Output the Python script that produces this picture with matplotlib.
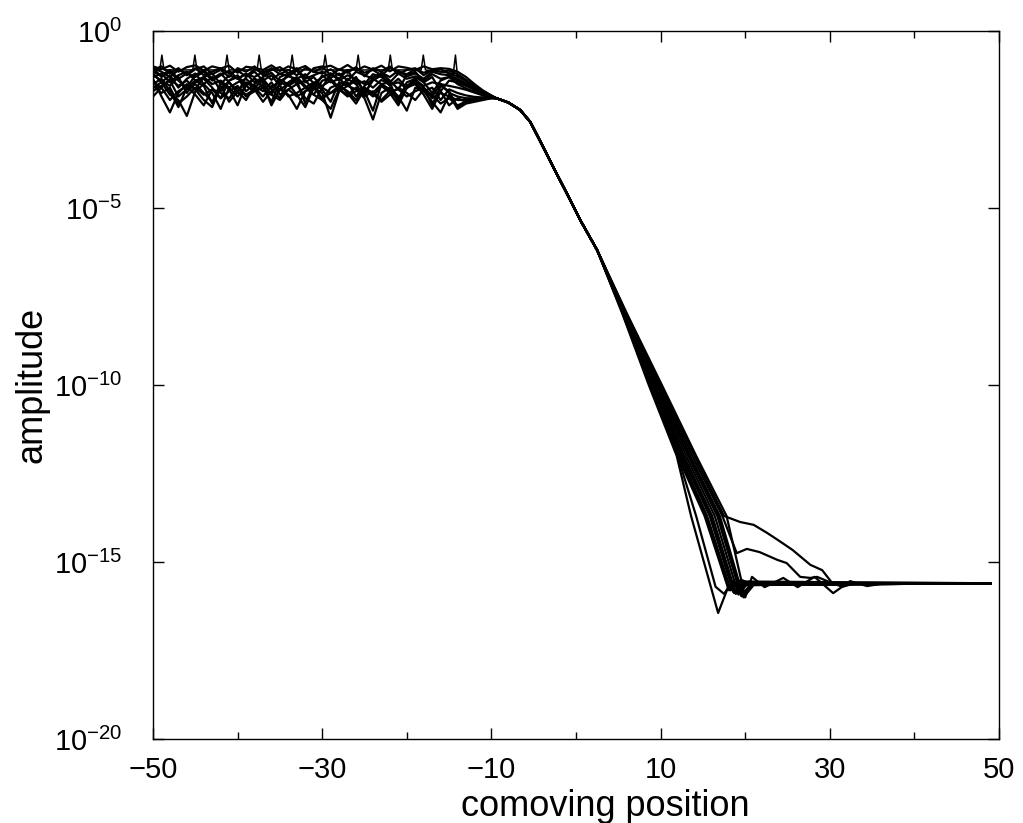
import numpy as np
import matplotlib.pyplot as plt
from matplotlib.ticker import NullLocator, FixedLocator

plt.rcParams['font.family'] = ['Liberation Sans', 'DejaVu Sans']
plt.rcParams['mathtext.fontset'] = 'custom'
plt.rcParams['mathtext.rm'] = 'Liberation Sans'
plt.rcParams['mathtext.it'] = 'Liberation Sans:italic'

# shared grid of the noisy region (comoving position -50 .. -10)
x_left = np.arange(-50, -9)

# common head of the front after the runs collapse (log10 amplitude)
x_head = [-9.4, -8.0, -6.6, -5.4, -4.3, -2.7, -1.1, 0.5, 2.5]
log_head = [-1.90, -2.02, -2.23, -2.57, -3.08, -3.84, -4.58, -5.34, -6.19]

# levels (log10 amplitude) at which each run's front position is read
front_levels = [-8.0, -10.0, -12.0, -13.7]

# run 1
left_1 = [-1.00, -1.08, -0.98, -1.15, -1.02, -0.97, -1.12, -1.00, -1.06, -0.98, -1.18, -1.01, -1.04, -1.10,
          -0.97, -1.13, -1.00, -1.08, -0.99, -1.16, -1.03, -0.98, -1.10, -0.96, -1.12, -1.00, -1.09, -0.98,
          -1.14, -1.00, -1.04, -1.10, -1.00, -1.08, -1.05, -1.07, -1.15, -1.30, -1.50, -1.68, -1.82]
front_1 = [5.6, 8.8, 12.0, 15.2]
tail_x_1 = [18.0, 19.0, 20.5, 49]
tail_log_1 = [-15.75, -15.55, -15.65, -15.6]

# run 2
left_2 = [-1.10, -1.00, -1.20, -1.05, -1.25, -1.08, -1.00, -1.22, -1.10, -1.30, -1.05, -1.15, -1.00, -1.25,
          -1.10, -1.02, -1.20, -1.12, -1.30, -1.05, -1.00, -1.25, -1.08, -1.18, -1.02, -1.28, -1.05, -1.15,
          -1.00, -1.22, -1.10, -1.05, -1.25, -1.10, -1.08, -1.20, -1.28, -1.42, -1.58, -1.72, -1.84]
front_2 = [5.65, 8.95, 12.3, 15.5]
tail_x_2 = [18.3, 19.5, 21.0, 49]
tail_log_2 = [-15.8, -15.5, -15.65, -15.6]

# run 3
left_3 = [-1.30, -1.20, -1.45, -1.25, -1.15, -1.40, -1.30, -1.20, -1.50, -1.25, -1.35, -1.20, -1.45, -1.30,
          -1.18, -1.42, -1.28, -1.35, -1.22, -1.48, -1.30, -1.20, -1.40, -1.25, -1.35, -1.50, -1.22, -1.30,
          -1.45, -1.20, -1.35, -1.28, -1.40, -1.22, -1.35, -1.30, -1.40, -1.52, -1.65, -1.76, -1.85]
front_3 = [5.7, 9.1, 12.5, 15.8]
tail_x_3 = [18.6, 19.8, 21.2, 49]
tail_log_3 = [-15.85, -15.55, -15.65, -15.6]

# run 4
left_4 = [-1.45, -1.60, -1.35, -1.55, -1.40, -1.65, -1.30, -1.50, -1.40, -1.60, -1.45, -1.35, -1.58, -1.42,
          -1.62, -1.38, -1.50, -1.35, -1.60, -1.45, -1.55, -1.40, -1.65, -1.35, -1.50, -1.42, -1.60, -1.38,
          -1.52, -1.45, -1.62, -1.40, -1.55, -1.45, -1.50, -1.55, -1.60, -1.66, -1.74, -1.82, -1.87]
front_4 = [5.75, 9.25, 12.75, 16.1]
tail_x_4 = [18.9, 20.3, 49]
tail_log_4 = [-15.9, -15.6, -15.6]

# run 5
left_5 = [-1.50, -1.35, -1.70, -2.15, -1.60, -1.40, -1.55, -2.05, -1.45, -1.65, -2.10, -1.50, -1.35, -1.60,
          -2.00, -1.45, -1.55, -1.40, -2.05, -1.50, -1.65, -2.00, -1.45, -1.55, -1.40, -1.70, -2.25, -1.50,
          -1.45, -2.05, -1.55, -1.40, -1.60, -2.10, -1.55, -1.70, -2.15, -1.98, -1.95, -1.92, -1.89]
front_5 = [5.8, 9.4, 13.0, 16.4]
tail_x_5 = [19.2, 20.5, 22.0, 49]
tail_log_5 = [-15.92, -15.55, -15.65, -15.6]

# run 6
left_6 = [-1.60, -1.45, -1.80, -1.95, -2.40, -1.70, -1.50, -1.75, -2.20, -1.60, -1.85, -1.55, -1.70, -1.50,
          -2.10, -1.65, -1.50, -1.80, -2.15, -1.60, -1.75, -2.45, -1.70, -1.55, -1.65, -1.90, -2.50, -1.75,
          -1.60, -1.85, -2.25, -1.60, -1.70, -2.00, -2.30, -1.80, -2.20, -2.05, -2.00, -1.95, -1.90]
front_6 = [5.85, 9.55, 13.25, 16.7]
tail_x_6 = [19.5, 20.8, 49]
tail_log_6 = [-15.95, -15.6, -15.6]

# run 7
left_7 = [-1.25, -1.40, -1.55, -1.30, -1.75, -1.45, -1.35, -1.60, -1.90, -1.40, -1.30, -1.70, -1.50, -1.35,
          -1.65, -1.90, -1.45, -1.30, -1.55, -1.80, -1.40, -1.35, -1.60, -1.45, -1.85, -1.55, -1.35, -1.50,
          -1.70, -1.95, -1.45, -1.35, -1.60, -1.85, -1.50, -1.75, -1.85, -1.90, -1.90, -1.88, -1.87]
front_7 = [5.9, 9.7, 13.5, 17.0]
tail_x_7 = [19.8, 21.0, 22.5, 49]
tail_log_7 = [-16.0, -15.65, -15.6, -15.6]

# run 8 (lower bump in the tail)
left_8 = [-1.70, -1.55, -1.40, -1.85, -1.65, -1.50, -1.75, -2.00, -1.60, -1.45, -1.70, -1.95, -1.55, -1.70,
          -1.45, -1.80, -1.65, -1.50, -1.90, -2.05, -1.60, -1.75, -1.55, -1.70, -1.95, -1.60, -1.75, -1.50,
          -1.65, -1.90, -1.55, -1.45, -1.70, -1.60, -1.95, -1.65, -1.75, -1.82, -1.86, -1.88, -1.88]
front_8 = [5.95, 9.85, 13.75, 17.3]
tail_x_8 = [19.0, 20.2, 21.7, 23.8, 24.9, 26.5, 27.7, 28.5, 30.3, 49]
tail_log_8 = [-14.75, -14.63, -14.72, -14.94, -15.03, -15.42, -15.45, -15.42, -15.6, -15.6]

# run 9 (upper bump in the tail)
left_9 = [-1.15, -1.25, -1.10, -1.35, -1.20, -1.30, -1.15, -1.40, -1.25, -1.12, -1.35, -1.22, -1.30, -1.15,
          -1.38, -1.20, -1.28, -1.12, -1.35, -1.25, -1.15, -1.32, -1.20, -1.40, -1.15, -1.25, -1.35, -1.18,
          -1.30, -1.12, -1.28, -1.20, -1.35, -1.15, -1.22, -1.25, -1.35, -1.48, -1.62, -1.75, -1.84]
front_9 = [6.0, 10.0, 14.0, 17.5]
tail_x_9 = [19.4, 21.0, 22.6, 24.0, 25.6, 27.7, 29.1, 30.3, 31.5, 33.0, 49]
tail_log_9 = [-13.87, -13.95, -14.18, -14.4, -14.66, -15.08, -15.23, -15.6, -15.7, -15.6, -15.6]

# run 10 (wiggles along the floor)
left_10 = [-1.35, -1.85, -2.30, -1.75, -1.50, -1.65, -1.95, -2.15, -1.55, -2.00, -1.70, -1.45, -1.60, -1.85,
           -1.55, -1.65, -1.80, -2.20, -1.70, -1.50, -1.95, -1.60, -1.50, -1.75, -2.05, -1.65, -1.85, -1.55,
           -1.75, -2.10, -1.60, -1.50, -1.80, -2.20, -1.70, -2.10, -1.90, -2.00, -1.95, -1.92, -1.90]
front_10 = [6.05, 10.15, 14.2, 17.8]
tail_x_10 = [20.0, 20.8, 22.3, 24.5, 26.2, 28.2, 30.4, 32.4, 34.4, 36.5, 49]
tail_log_10 = [-16.0, -15.42, -15.71, -15.45, -15.71, -15.42, -15.88, -15.54, -15.68, -15.6, -15.6]

# run 11
left_11 = [-1.05, -1.15, -1.30, -1.10, -1.20, -1.05, -1.25, -1.15, -1.05, -1.20, -1.12, -1.28, -1.08, -1.18,
           -1.05, -1.22, -1.10, -1.25, -1.05, -1.15, -1.20, -1.08, -1.25, -1.12, -1.05, -1.18, -1.10, -1.25,
           -1.05, -1.15, -1.22, -1.08, -1.18, -1.10, -1.15, -1.12, -1.22, -1.38, -1.55, -1.70, -1.83]
front_11 = [5.55, 8.7, 12.0, 14.2]
tail_x_11 = [16.5, 17.5, 18.5, 19.5, 49]
tail_log_11 = [-15.7, -15.9, -15.55, -15.65, -15.6]

# run 12 (deep dip at the floor)
left_12 = [-1.55, -1.75, -1.60, -2.05, -1.85, -1.60, -1.80, -1.65, -1.90, -1.70, -1.55, -1.85, -1.70, -1.60,
           -1.80, -1.95, -1.65, -1.85, -1.70, -1.60, -1.90, -1.75, -1.65, -1.85, -1.70, -1.60, -1.80, -1.95,
           -1.70, -1.65, -1.85, -1.70, -1.60, -1.90, -1.75, -1.85, -1.95, -1.95, -1.92, -1.90, -1.88]
front_12 = [5.5, 8.6, 11.9, 13.6]
tail_x_12 = [16.8, 18.0, 19.5, 49]
tail_log_12 = [-16.44, -15.7, -15.6, -15.6]

# run 13
left_13 = [-1.20, -1.45, -1.25, -1.60, -1.35, -1.20, -1.50, -1.30, -1.70, -1.40, -1.25, -1.55, -1.35, -1.45,
           -1.80, -1.30, -1.20, -1.50, -1.40, -1.65, -1.25, -1.45, -1.35, -1.55, -1.30, -1.75, -1.40, -1.25,
           -1.55, -1.35, -1.60, -1.30, -1.45, -1.75, -1.40, -1.30, -1.50, -1.62, -1.72, -1.80, -1.86]
front_13 = [5.72, 9.18, 12.6, 15.95]
tail_x_13 = [18.7, 19.9, 49]
tail_log_13 = [-15.88, -15.58, -15.6]

# run 14
left_14 = [-1.05, -1.30, -1.15, -1.40, -1.60, -1.25, -1.10, -1.35, -1.20, -1.45, -1.75, -1.30, -1.15, -1.40,
           -1.25, -1.55, -1.20, -1.05, -1.45, -1.30, -1.60, -1.20, -1.35, -1.10, -1.50, -1.85, -1.30, -1.20,
           -1.40, -1.65, -1.25, -1.15, -1.45, -1.30, -1.70, -1.40, -1.45, -1.55, -1.66, -1.76, -1.85]
front_14 = [5.88, 9.62, 13.4, 16.85]
tail_x_14 = [19.6, 20.9, 49]
tail_log_14 = [-15.97, -15.62, -15.6]

# run 15
left_15 = [-1.85, -1.60, -1.95, -1.70, -1.55, -1.80, -2.10, -1.65, -1.75, -1.90, -1.60, -1.80, -1.65, -2.00,
           -1.70, -1.55, -1.85, -1.75, -1.60, -1.80, -1.95, -2.20, -1.65, -1.80, -1.60, -1.85, -1.70, -2.00,
           -1.80, -1.60, -1.75, -1.95, -1.65, -1.80, -2.05, -1.90, -2.10, -2.00, -1.96, -1.92, -1.89]
front_15 = [5.62, 8.88, 12.15, 15.35]
tail_x_15 = [18.1, 19.2, 49]
tail_log_15 = [-15.8, -15.55, -15.6]

# thin spikes sticking out of the top of the noisy band
spike_x = [-50.0, -49.2, -48.95, -48.7, -45.3, -45.05, -44.8, -41.5, -41.25, -41.0, -37.7, -37.45, -37.2,
           -33.8, -33.55, -33.3, -29.9, -29.65, -29.4, -26.0, -25.75, -25.5, -22.2, -21.95, -21.7,
           -18.3, -18.05, -17.8, -14.5, -14.25, -14.0]
spike_log = [-1.1, -1.1, -0.68, -1.1, -1.1, -0.68, -1.1, -1.1, -0.68, -1.1, -1.1, -0.68, -1.1,
             -1.1, -0.68, -1.1, -1.1, -0.68, -1.1, -1.1, -0.68, -1.1, -1.1, -0.68, -1.1,
             -1.1, -0.68, -1.1, -1.2, -0.68, -1.3]

runs = [
    (left_1, front_1, tail_x_1, tail_log_1),
    (left_2, front_2, tail_x_2, tail_log_2),
    (left_3, front_3, tail_x_3, tail_log_3),
    (left_4, front_4, tail_x_4, tail_log_4),
    (left_5, front_5, tail_x_5, tail_log_5),
    (left_6, front_6, tail_x_6, tail_log_6),
    (left_7, front_7, tail_x_7, tail_log_7),
    (left_8, front_8, tail_x_8, tail_log_8),
    (left_9, front_9, tail_x_9, tail_log_9),
    (left_10, front_10, tail_x_10, tail_log_10),
    (left_11, front_11, tail_x_11, tail_log_11),
    (left_12, front_12, tail_x_12, tail_log_12),
    (left_13, front_13, tail_x_13, tail_log_13),
    (left_14, front_14, tail_x_14, tail_log_14),
    (left_15, front_15, tail_x_15, tail_log_15),
]

fig = plt.figure(figsize=(10.23, 8.23), dpi=100)
ax = fig.add_axes([153 / 1023, 1 - 739 / 823, 846 / 1023, 708 / 823])

for left, front, tail_x, tail_log in runs:
    x = np.concatenate([x_left, x_head, front, tail_x])
    logamp = np.concatenate([left, log_head, front_levels, tail_log])
    ax.semilogy(x, 10.0 ** logamp, color='black', lw=1.6)

ax.semilogy(spike_x, 10.0 ** np.array(spike_log), color='black', lw=1.1)

ax.set_xlim(-50, 50)
ax.set_ylim(1e-20, 1e0)
ax.set_xticks([-50, -30, -10, 10, 30, 50])
ax.set_xticklabels(['\u221250', '\u221230', '\u221210', '10', '30', '50'])
ax.xaxis.set_minor_locator(FixedLocator([-40, -20, 0, 20, 40]))
ax.set_yticks([1e-20, 1e-15, 1e-10, 1e-5, 1e0])
ax.set_yticklabels([r'$10^{-20}$', r'$10^{-15}$', r'$10^{-10}$', r'$10^{-5}$', r'$10^{0}$'])
ax.yaxis.set_minor_locator(NullLocator())

ax.tick_params(which='both', direction='in', top=True, right=True, width=1.0)
ax.tick_params(which='major', length=8)
ax.tick_params(which='minor', length=5)
ax.tick_params(axis='x', labelsize=21, pad=12)
ax.tick_params(axis='y', labelsize=21, pad=22)
for sp in ax.spines.values():
    sp.set_linewidth(1.0)

ax.set_xlabel('comoving position', fontsize=26)
ax.set_ylabel('amplitude', fontsize=26)
ax.xaxis.set_label_coords(0.535, -0.07)
ax.yaxis.set_label_coords(-0.122, 0.5)

fig.savefig('out.png', dpi=100)
